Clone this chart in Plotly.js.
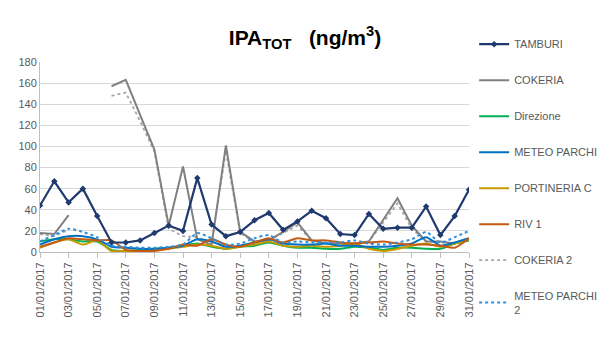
<!DOCTYPE html>
<html><head><meta charset="utf-8">
<script src="https://cdn.plot.ly/plotly-3.0.1.min.js"></script>
<style>html,body{margin:0;padding:0;background:#fff;}#chart{width:604px;height:338px;}</style>
</head><body><div id="chart"></div>
<script>
const days = [];
for (let d = 1; d <= 31; d++) days.push((d < 10 ? '0' + d : '' + d) + '/01/2017');

const TAMBURI = [44,67,47,60,34,9,9,11,18,25,20,70,26,15,19,30,37,21,29,39,32,17,16,36,22,23,23,43,16,34,59];
const COKERIA = [18,17,35,null,null,157,163,130,97,25,81,12,7,101,19,10,11,19,28,11,8,8,8,10,30,51,25,10,10,8,12];
const DIREZIONE = [10,12,12,10,10,2,1,2,3,4,6,8,5,3,5,6,9,6,4,4,3,3,5,4,2,4,4,3,3,8,11];
const METEO_PARCHI = [7,12,15,15,12,5,4,3,3,4,6,12,10,5,6,9,12,8,7,7,8,6,6,5,5,6,8,14,6,9,13];
const PORTINERIA_C = [4,9,12,7,11,1,1,1,2,3,5,7,6,3,5,7,10,6,5,6,5,6,8,3,1,3,6,8,5,8,12];
const RIV_1 = [5,9,13,12,11,11,2,1,1,3,7,6,12,7,5,9,13,9,13,11,11,9,8,9,10,8,7,7,6,4,13];
const COKERIA_2 = [17,15,21,null,null,148,151,124,95,22,15,14,8,96,18,9,11,18,25,11,8,8,8,10,28,46,22,10,9,8,11];
const METEO_PARCHI_2 = [10,16,22,19,14,6,5,4,4,5,7,18,13,7,8,13,16,9,10,9,9,9,11,8,7,9,12,19,9,14,20];

function tr(name, y, color, width, dash, rank, smooth, extra) {
  return Object.assign({
    type: 'scatter', mode: 'lines', name: name, x: days, y: y,
    line: {color: color, width: width, dash: dash, shape: smooth ? 'spline' : 'linear', smoothing: 0.6},
    legendrank: rank, legendgroup: 'g' + rank, connectgaps: false
  }, extra || {});
}

const data = [
  tr('COKERIA 2', COKERIA_2, '#a6a6a6', 1.8, 'dot', 7, false),
  tr('COKERIA', COKERIA, '#808080', 2, 'solid', 2, false),
  tr('Direzione', DIREZIONE, '#00b050', 2, 'solid', 3, true),
  tr('PORTINERIA C', PORTINERIA_C, '#c49a00', 2, 'solid', 5, true),
  tr('METEO PARCHI', METEO_PARCHI, '#0070c0', 2, 'solid', 4, true),
  tr('RIV 1', RIV_1, '#c55a11', 2, 'solid', 6, true),
  tr('METEO PARCHI<br>2', METEO_PARCHI_2, '#2e8fe0', 2, 'dot', 8, true),
  tr('TAMBURI', TAMBURI, '#1f3a6e', 2.2, 'solid', 1, false,
     {mode: 'lines+markers', marker: {symbol: 'diamond', size: 5, color: '#1f3a6e'}})
];

const layout = {
  width: 604, height: 338,
  margin: {l: 40, r: 135, t: 62, b: 86, autoexpand: false},
  paper_bgcolor: '#fff', plot_bgcolor: '#fff',
  font: {family: 'Liberation Sans, Arial, sans-serif', size: 11, color: '#595959'},
  title: {text: '<b>IPA<sub>TOT</sub>   (ng/m<sup>3</sup>)</b>', x: 0.505, xref: 'container', xanchor: 'center',
          y: 0.89, yref: 'container', yanchor: 'middle',
          font: {family: 'Liberation Sans, Arial, sans-serif', size: 21, color: '#000'}},
  xaxis: {type: 'category', range: [0, 30], tickmode: 'linear', tick0: 0, dtick: 2,
          tickangle: -90, showgrid: false, showline: true, linecolor: '#bfbfbf', linewidth: 1,
          ticks: 'outside', ticklen: 5, tickcolor: '#bfbfbf', zeroline: false,
          tickfont: {size: 11, color: '#595959'}},
  yaxis: {range: [0, 180], dtick: 20, showgrid: true, gridcolor: '#d9d9d9', gridwidth: 1,
          showline: true, linecolor: '#bfbfbf', zeroline: false, ticks: '',
          tickfont: {size: 11, color: '#595959'}},
  showlegend: true,
  legend: {x: 1.012, xanchor: 'left', y: 1.17, yanchor: 'top', tracegroupgap: 17, maxheight: 330,
           font: {size: 11, color: '#595959'}, bgcolor: 'rgba(0,0,0,0)', itemwidth: 30}
};

Plotly.newPlot('chart', data, layout, {displayModeBar: false, staticPlot: true});
</script></body></html>
